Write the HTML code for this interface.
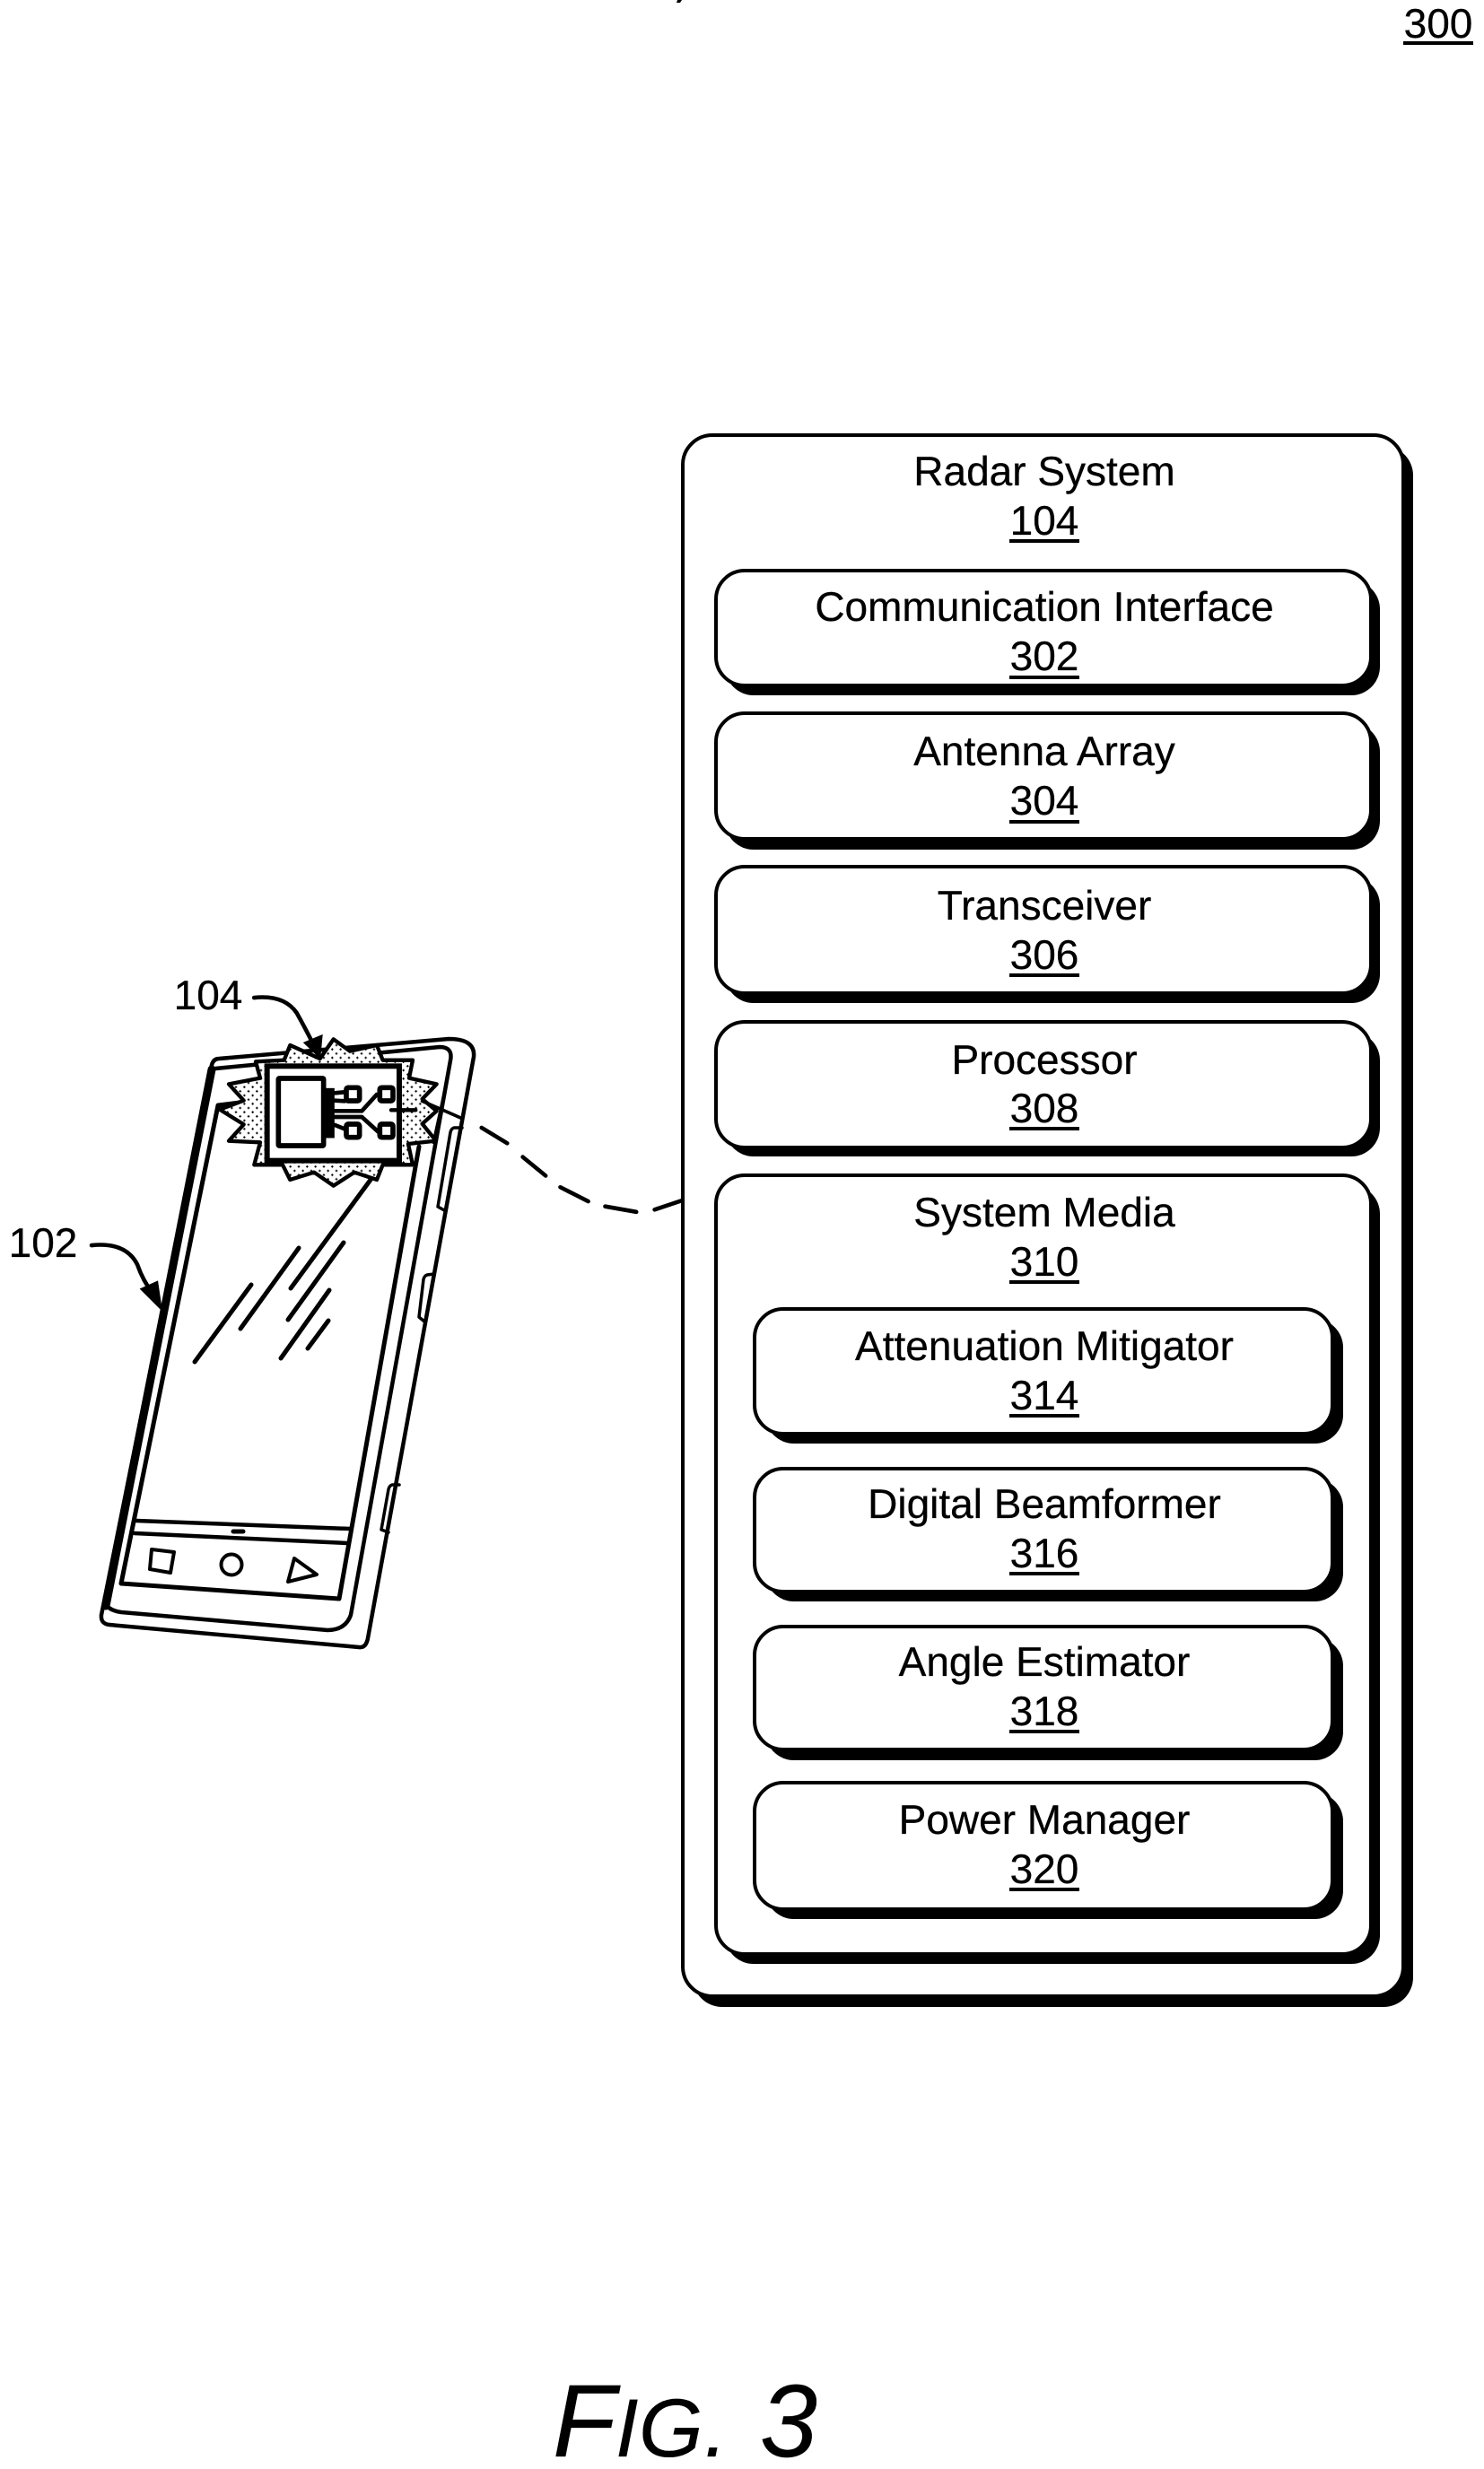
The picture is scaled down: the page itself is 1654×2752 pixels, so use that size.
<!DOCTYPE html>
<html lang="en">
<head>
<meta charset="utf-8">
<title>Fig. 3</title>
<style>
html,body{margin:0;padding:0;background:#fff;}
svg{display:block;}
text{font-family:"Liberation Sans",sans-serif;fill:#000;stroke:#000;stroke-width:.3;text-rendering:geometricPrecision;}
.t{font-size:46px;text-anchor:middle;}
.s{fill:#000;stroke:none;}
.b{fill:#fff;stroke:#000;stroke-width:4;}
.l{fill:none;stroke:#000;stroke-linecap:round;stroke-linejoin:round;}
</style>
</head>
<body>
<svg xmlns="http://www.w3.org/2000/svg" width="1654" height="2752" viewBox="0 0 1654 2752">
<defs>
<pattern id="stipple" width="28" height="28" patternUnits="userSpaceOnUse">
<path d="M7 3V11M3 7H11M21 17V25M17 21H25" stroke="#000" stroke-width="3" fill="none"/>
</pattern>
</defs>
<rect width="1654" height="2752" fill="#fff"/>
<path d="M755 0H760L758 3H754Z" fill="#000"/>

<g>
<text x="1603" y="42" class="t">300</text>
<rect x="1564" y="46" width="78" height="4"/>
</g>

<g>
<rect class="s" x="772" y="497" width="803" height="1740" rx="33"/>
<rect class="b" x="761" y="485" width="803" height="1740" rx="33"/>
<text x="1164" y="541" class="t">Radar System</text>
<text x="1164" y="596" class="t">104</text>
<rect x="1125" y="601" width="78" height="4"/>

<g>
<rect class="s" x="808" y="647" width="730" height="128" rx="32"/>
<rect class="b" x="798" y="636" width="730" height="128" rx="32"/>
<text x="1164" y="692" class="t">Communication Interface</text>
<text x="1164" y="747" class="t">302</text>
<rect x="1125" y="753" width="78" height="4"/>
</g>

<g>
<rect class="s" x="808" y="806" width="730" height="141" rx="32"/>
<rect class="b" x="798" y="795" width="730" height="140" rx="32"/>
<text x="1164" y="853" class="t">Antenna Array</text>
<text x="1164" y="908" class="t">304</text>
<rect x="1125" y="914" width="78" height="4"/>
</g>

<g>
<rect class="s" x="808" y="977" width="730" height="141" rx="32"/>
<rect class="b" x="798" y="966" width="730" height="141" rx="32"/>
<text x="1164" y="1025" class="t">Transceiver</text>
<text x="1164" y="1080" class="t">306</text>
<rect x="1125" y="1085" width="78" height="4"/>
</g>

<g>
<rect class="s" x="808" y="1150" width="730" height="139" rx="32"/>
<rect class="b" x="798" y="1139" width="730" height="140" rx="32"/>
<text x="1164" y="1197" class="t">Processor</text>
<text x="1164" y="1251" class="t">308</text>
<rect x="1125" y="1256" width="78" height="4"/>
</g>

<g>
<rect class="s" x="808" y="1321" width="730" height="868" rx="32"/>
<rect class="b" x="798" y="1310" width="730" height="868" rx="32"/>
<text x="1164" y="1367" class="t">System Media</text>
<text x="1164" y="1422" class="t">310</text>
<rect x="1125" y="1427" width="78" height="4"/>

<g>
<rect class="s" x="853" y="1470" width="644" height="139" rx="32"/>
<rect class="b" x="841" y="1459" width="644" height="139" rx="32"/>
<text x="1164" y="1516" class="t">Attenuation Mitigator</text>
<text x="1164" y="1571" class="t">314</text>
<rect x="1125" y="1576" width="78" height="4"/>
</g>

<g>
<rect class="s" x="853" y="1648" width="644" height="137" rx="32"/>
<rect class="b" x="841" y="1637" width="644" height="137" rx="32"/>
<text x="1164" y="1692" class="t">Digital Beamformer</text>
<text x="1164" y="1747" class="t">316</text>
<rect x="1125" y="1752" width="78" height="4"/>
</g>

<g>
<rect class="s" x="853" y="1825" width="644" height="137" rx="32"/>
<rect class="b" x="841" y="1813" width="644" height="137" rx="32"/>
<text x="1164" y="1868" class="t">Angle Estimator</text>
<text x="1164" y="1923" class="t">318</text>
<rect x="1125" y="1928" width="78" height="4"/>
</g>

<g>
<rect class="s" x="853" y="1998" width="644" height="141" rx="32"/>
<rect class="b" x="841" y="1987" width="644" height="141" rx="32"/>
<text x="1164" y="2044" class="t">Power Manager</text>
<text x="1164" y="2099" class="t">320</text>
<rect x="1125" y="2104" width="78" height="4"/>
</g>
</g>
</g>

<g>
<path class="l" fill="#fff" stroke-width="4.5" d="M236 1187Q238 1180 244 1180L500 1158Q530 1158 528 1178L410 1826Q408 1837 400 1836L122 1811Q112 1810 113 1800Z" style="fill:#fff"/>
<path class="l" stroke-width="9" d="M236 1192L118 1790"/>
<path class="l" stroke-width="4.5" d="M240 1191L490 1167Q505 1167 502 1182L391 1800Q385 1817 365 1817L135 1797Q115 1794 117 1780"/>
<path class="l" stroke-width="5" d="M275 1228L243 1232L135 1765L378 1782L467 1278"/>
<path class="l" stroke-width="4.5" d="M152 1695L390 1704M150 1709L387 1720"/>
<path class="l" stroke-width="5" d="M260 1707H271"/>
<path class="l" stroke-width="4" d="M169 1727L194 1730L190 1753L167 1749Z"/>
<circle class="l" stroke-width="4" cx="258" cy="1744" r="11.5"/>
<path class="l" stroke-width="4" d="M328 1737L353 1755L321 1763Z"/>
<g>
<path class="l" stroke-width="5" d="M217 1518L280 1432M268 1481L333 1391M324 1436L413 1315M321 1471L383 1385M313 1514L367 1438M343 1503L366 1472"/>
</g>
<path class="l" stroke-width="3.5" d="M515 1257H506Q503 1258 502 1262L488 1345L497 1350"/>
<path class="l" stroke-width="3.5" d="M484 1420L476 1421Q473 1422 472 1426L467 1468L473 1473"/>
<path class="l" stroke-width="3.5" d="M445 1655H437Q434 1656 433 1660L425 1705L433 1708"/>

<g transform="translate(200 1130) scale(0.3333)">
<path d="M370 105L470 150L515 85L570 125L660 105L680 155L780 155L768 215L860 235L812 285L860 325L812 368L858 425L765 435L780 505L680 505L660 555L585 530L515 575L450 530L370 555L345 505L250 505L270 430L165 425L215 370L135 320L215 290L165 235L270 215L255 160L350 155Z" fill="#fff"/>
<path d="M370 105L470 150L515 85L570 125L660 105L680 155L780 155L768 215L860 235L812 285L860 325L812 368L858 425L765 435L780 505L680 505L660 555L585 530L515 575L450 530L370 555L345 505L250 505L270 430L165 425L215 370L135 320L215 290L165 235L270 215L255 160L350 155Z" fill="url(#stipple)" stroke="#000" stroke-width="13" stroke-linejoin="round"/>
<rect x="293" y="175" width="442" height="316" fill="#fff" stroke="#000" stroke-width="18"/>
<rect x="331" y="216" width="151" height="225" fill="#fff" stroke="#000" stroke-width="17" rx="3"/>
<rect x="493" y="257" width="17" height="150" fill="#fff" stroke="#000" stroke-width="17"/>
<g>
<rect x="558" y="247" width="44" height="44" fill="#fff" stroke="#000" stroke-width="17" rx="6"/>
<rect x="670" y="247" width="44" height="44" fill="#fff" stroke="#000" stroke-width="17" rx="6"/>
<rect x="558" y="369" width="44" height="44" fill="#fff" stroke="#000" stroke-width="17" rx="6"/>
<rect x="670" y="369" width="44" height="44" fill="#fff" stroke="#000" stroke-width="17" rx="6"/>
</g>
<path class="l" stroke-width="14" d="M520 265L552 262M520 290L552 292M520 325L610 325L660 270M520 345L610 345L665 395M520 372L552 385"/>
<path class="l" stroke-width="13" d="M708 322H790"/>
<path class="l" stroke-width="11" d="M812 292L945 350M885 270L850 430"/>
</g>

<g transform="translate(0 1060) scale(0.5102)">
<path class="l" stroke-width="9" d="M1052 386L1108 420M1142 450L1192 491M1224 516L1285 547M1322 558L1390 570M1430 565L1490 545"/>
<path class="l" stroke-width="9" d="M555 102Q620 95 648 135Q665 165 685 205"/>
<path d="M662 200L705 182L700 236Z" fill="#000"/>
<path class="l" stroke-width="9" d="M200 643Q275 635 300 685Q312 720 335 750"/>
<path d="M305 738L345 720L355 788Z" fill="#000"/>
</g>
<text x="232" y="1125" class="t">104</text>
<text x="48" y="1401" class="t">102</text>
</g>

<g>
<text y="2738" font-style="italic"><tspan x="616" font-size="115">F</tspan><tspan x="686" font-size="92">I</tspan><tspan x="712" font-size="92">G</tspan><tspan x="785" font-size="92">.</tspan><tspan x="847" font-size="115">3</tspan></text>
</g>
</svg>
</body>
</html>
